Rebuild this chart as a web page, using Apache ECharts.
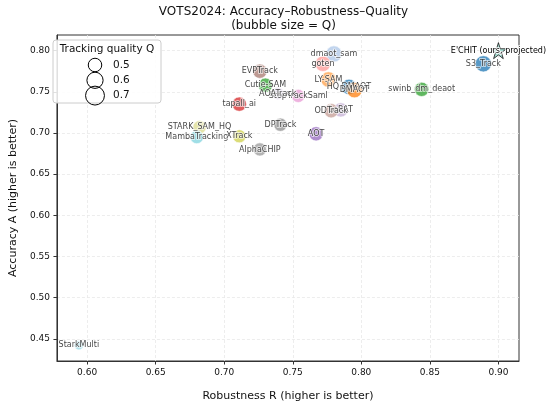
<!DOCTYPE html>
<html>
<head>
<meta charset="utf-8">
<script src="https://cdn.jsdelivr.net/npm/echarts@6/dist/echarts.min.js"></script>
<style>
  html, body { margin: 0; padding: 0; background: #fff; }
  #chart { width: 550px; height: 407px; }
</style>
</head>
<body>
<div id="chart"></div>
<script>
// VOTS2024 trackers: robustness R, accuracy A, quality Q (bubble size)
const NAMES = ['dmaot_sam', 'goten', 'LY-SAM', 'HQ DMAOT', 'DMAOT', 'EVPTrack', 'Cutie-SAM',
  'StopTrackSaml', 'AOATrack', 'tapall_ai', 'LoRAT', 'ODTrack', 'DPTrack', 'AOT', 'AlphaCHIP',
  'STARK_SAM_HQ', 'MambaTracking', 'XTrack', 'S3_Track', 'swinb_dm_deaot', 'StarkMulti'];
const ROBUSTNESS = [0.780, 0.772, 0.776, 0.791, 0.795, 0.726, 0.730,
  0.754, 0.739, 0.711, 0.785, 0.778, 0.741, 0.767, 0.726,
  0.682, 0.680, 0.711, 0.889, 0.844, 0.594];
const ACCURACY = [0.796, 0.784, 0.765, 0.756, 0.752, 0.775, 0.758,
  0.745, 0.748, 0.735, 0.728, 0.727, 0.710, 0.699, 0.680,
  0.707, 0.695, 0.696, 0.784, 0.753, 0.442];
const QUALITY = [0.60, 0.57, 0.57, 0.57, 0.57, 0.53, 0.53,
  0.49, 0.46, 0.53, 0.53, 0.53, 0.49, 0.53, 0.49,
  0.49, 0.49, 0.49, 0.60, 0.53, 0.34];

// projected point (star)
const OURS_NAME = "E'CHIT (ours, projected)";
const OURS_R = 0.900;
const OURS_A = 0.800;

const LEGEND_Q = [0.5, 0.6, 0.7];
const X_TICKS = [0.60, 0.65, 0.70, 0.75, 0.80, 0.85, 0.90];
const Y_TICKS = [0.45, 0.50, 0.55, 0.60, 0.65, 0.70, 0.75, 0.80];

// styles
const PALETTE = ['#aec7e8', '#ff9896', '#ff9f45', '#1f77b4', '#ff7f0e', '#a8786f', '#2ca02c',
  '#e89ad4', '#dcd0e8', '#d62728', '#c5b0d5', '#c49c94', '#8f8f8f', '#9467bd', '#9a9a9a',
  '#dbdb8d', '#7fd3de', '#cfd04a', '#1f77b4', '#2ca02c', '#9edae5'];
const FONT = 'DejaVu Sans';
const TEXT = '#111';
const SIZE_PER_Q = 27;

const chart = echarts.init(document.getElementById('chart'));

const bubbles = NAMES.map((n, i) => [ROBUSTNESS[i], ACCURACY[i], QUALITY[i], n]);

const gridL = 48, gridR = 31, gridT = 35, gridB = 36;
const axesCx = gridL + (550 - gridL - gridR) / 2;

// legend box (drawn as graphic)
const legendRows = LEGEND_Q.map((q, i) => {
  const cy = 65 + i * 15.3;
  return [
    { type: 'circle', shape: { cx: 95, cy: cy, r: q * SIZE_PER_Q / 2 },
      style: { fill: 'none', stroke: '#000', lineWidth: 1 }, z: 101 },
    { type: 'text', x: 113, y: cy,
      style: { text: q.toFixed(1), font: '10.5px ' + FONT, fill: TEXT,
        textAlign: 'left', textVerticalAlign: 'middle', align: 'left', verticalAlign: 'middle' }, z: 101 }
  ];
}).flat();

chart.setOption({
  animation: false,
  grid: { left: gridL, right: gridR, top: gridT, bottom: gridB,
    show: true, borderColor: '#333', borderWidth: 1, backgroundColor: 'transparent' },
  graphic: [
    { type: 'text', x: axesCx, y: 12,
      style: { text: 'VOTS2024: Accuracy\u2013Robustness\u2013Quality', font: '12px ' + FONT, fill: TEXT,
        textAlign: 'center', textVerticalAlign: 'middle', align: 'center', verticalAlign: 'middle' } },
    { type: 'text', x: axesCx, y: 25.5,
      style: { text: '(bubble size = Q)', font: '12px ' + FONT, fill: TEXT,
        textAlign: 'center', textVerticalAlign: 'middle', align: 'center', verticalAlign: 'middle' } },
    { type: 'rect', shape: { x: 53, y: 40, width: 108, height: 63, r: 3 },
      style: { fill: 'rgba(255,255,255,0.85)', stroke: '#cccccc', lineWidth: 1 }, z: 100 },
    { type: 'text', x: 107, y: 49.5,
      style: { text: 'Tracking quality Q', font: '10.5px ' + FONT, fill: TEXT,
        textAlign: 'center', textVerticalAlign: 'middle', align: 'center', verticalAlign: 'middle' }, z: 101 },
    ...legendRows
  ],
  xAxis: {
    type: 'value',
    min: 0.578, max: 0.915, splitNumber: 7,
    name: 'Robustness R (higher is better)',
    nameLocation: 'middle', nameGap: 30,
    nameTextStyle: { fontFamily: FONT, fontSize: 11, color: TEXT },
    axisLine: { show: true, lineStyle: { color: '#333' } },
    axisTick: { show: true, length: 3.5, customValues: X_TICKS, lineStyle: { color: '#333' } },
    axisLabel: { customValues: X_TICKS, margin: 7, fontFamily: FONT, fontSize: 9, color: TEXT,
      formatter: v => v.toFixed(2) },
    splitLine: { show: true, lineStyle: { color: '#e8e8e8', width: 0.8, type: [3, 2] } }
  },
  yAxis: {
    type: 'value',
    min: 0.423, max: 0.819, splitNumber: 8,
    name: 'Accuracy A (higher is better)',
    nameLocation: 'middle', nameGap: 36,
    nameTextStyle: { fontFamily: FONT, fontSize: 11, color: TEXT },
    axisLine: { show: true, lineStyle: { color: '#333' } },
    axisTick: { show: true, length: 3.5, customValues: Y_TICKS, lineStyle: { color: '#333' } },
    axisLabel: { customValues: Y_TICKS, margin: 7, fontFamily: FONT, fontSize: 9, color: TEXT,
      formatter: v => v.toFixed(2) },
    splitLine: { show: true, lineStyle: { color: '#e8e8e8', width: 0.8, type: [3, 2] } }
  },
  series: [
    {
      type: 'scatter',
      data: bubbles,
      symbolSize: v => v[2] * SIZE_PER_Q,
      itemStyle: {
        color: p => PALETTE[p.dataIndex],
        opacity: 0.75,
        borderColor: '#fff',
        borderWidth: 0.8
      },
      label: {
        show: true, position: 'inside',
        formatter: p => p.data[3],
        fontFamily: FONT, fontSize: 8, color: '#000',
        textBorderColor: '#fff', textBorderWidth: 1.5
      },
      emphasis: { disabled: true }
    },
    {
      type: 'scatter',
      data: [[OURS_R, OURS_A, OURS_NAME]],
      symbol: 'path://M50,0 L61,35 L98,35 L68,57 L79,91 L50,70 L21,91 L32,57 L2,35 L39,35 Z',
      symbolSize: 16,
      itemStyle: { color: '#a8dcd2', borderColor: '#111', borderWidth: 0.8, opacity: 1 },
      label: {
        show: true, position: 'inside',
        formatter: p => p.data[2],
        fontFamily: FONT, fontSize: 8, color: '#000',
        textBorderColor: '#fff', textBorderWidth: 1.5
      },
      emphasis: { disabled: true }
    }
  ]
});
window.addEventListener('resize', () => chart.resize());
</script>
</body>
</html>
